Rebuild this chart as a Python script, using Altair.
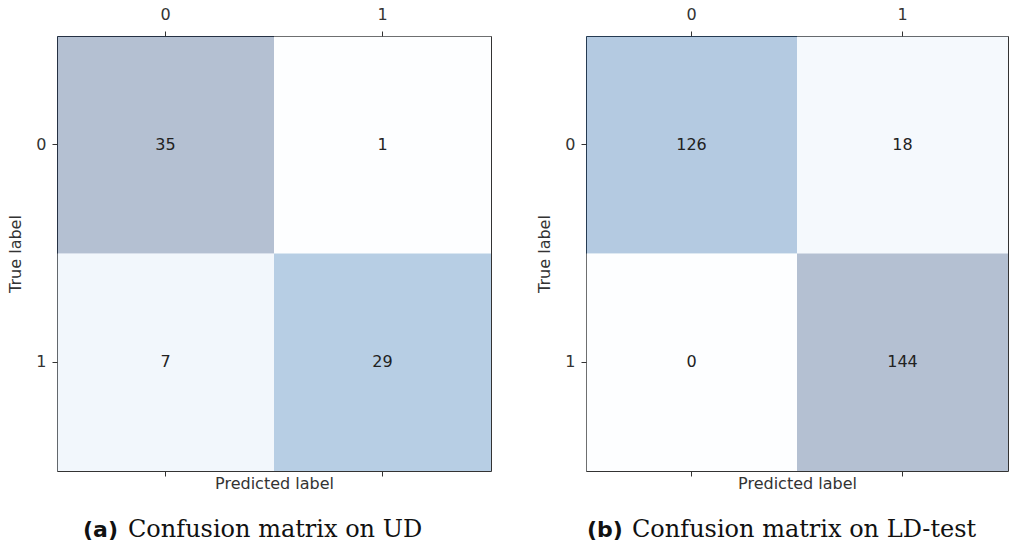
import altair as alt
import pandas as pd
import numpy as np

# ---- data ----
classes = ["0", "1"]
ud_matrix = [[35, 1], [7, 29]]          # panel (a)
ld_matrix = [[126, 18], [0, 144]]       # panel (b)
caption_a = ["(a)", "Confusion matrix on UD"]
caption_b = ["(b)", "Confusion matrix on LD-test"]

# matplotlib "Blues" colour stops (style)
BLUES = ["#f7fbff", "#deebf7", "#c6dbef", "#9ecae1", "#6baed6",
         "#4292c6", "#2171b5", "#08519c", "#08306b"]

H = 435
AX_FONT = "DejaVu Sans"


def to_frame(m):
    rows = []
    for i, t in enumerate(classes):
        for j, p in enumerate(classes):
            rows.append({"true": t, "pred": p, "count": m[i][j]})
    return pd.DataFrame(rows)


def panel(m, caption, width, cap_x):
    df = to_frame(m)
    vmin, vmax = float(df["count"].min()), float(df["count"].max())
    stops = list(np.linspace(vmin, vmax, len(BLUES)))
    base = alt.Chart(df)
    rect = base.mark_rect(opacity=0.3).encode(
        x=alt.X("pred:O", sort=classes,
                axis=alt.Axis(orient="top", title=None, labelAngle=0,
                              domain=False, ticks=True, tickSize=5,
                              labelPadding=9)),
        y=alt.Y("true:O", sort=classes,
                axis=alt.Axis(title="True label", labelAngle=0,
                              domain=False, tickSize=5, labelPadding=6,
                              titlePadding=12)),
        color=alt.Color("count:Q", legend=None,
                        scale=alt.Scale(domain=stops, range=BLUES)),
    )
    txt = base.mark_text(fontSize=16, font=AX_FONT, color="#222").encode(
        x=alt.X("pred:O", sort=classes,
                axis=alt.Axis(orient="bottom", title="Predicted label",
                              labels=False, domain=False, tickSize=5,
                              titlePadding=-1)),
        y=alt.Y("true:O", sort=classes),
        text="count:Q",
    )
    cap_bold = alt.Chart(pd.DataFrame({"t": [caption[0]]})).mark_text(
        align="left", baseline="alphabetic", font="DejaVu Sans",
        fontWeight="bold", fontSize=22, color="#111"
    ).encode(x=alt.value(cap_x), y=alt.value(H + 66), text="t:N")
    cap_rest = alt.Chart(pd.DataFrame({"t": [caption[1]]})).mark_text(
        align="left", baseline="alphabetic", font="DejaVu Serif",
        fontSize=24, color="#111"
    ).encode(x=alt.value(cap_x + 45), y=alt.value(H + 66), text="t:N")
    return alt.layer(rect, txt, cap_bold, cap_rest).resolve_axis(
        x="independent").properties(width=width, height=H)


left = panel(ud_matrix, caption_a, 434, 26)
right = panel(ld_matrix, caption_b, 422, 1)

chart = alt.hconcat(left, right, spacing=44).resolve_scale(
    color="independent"
).properties(
    padding={"left": 7, "top": 5, "right": 0, "bottom": 0},
    background="white",
).configure_view(
    stroke="#333", strokeWidth=1
).configure_axis(
    labelFont=AX_FONT, labelFontSize=16, labelColor="#333",
    titleFont=AX_FONT, titleFontSize=16, titleColor="#333",
    titleFontWeight="normal", tickColor="#333", grid=False,
)

chart.save("out.html", embed_options={"renderer": "svg", "actions": False})
